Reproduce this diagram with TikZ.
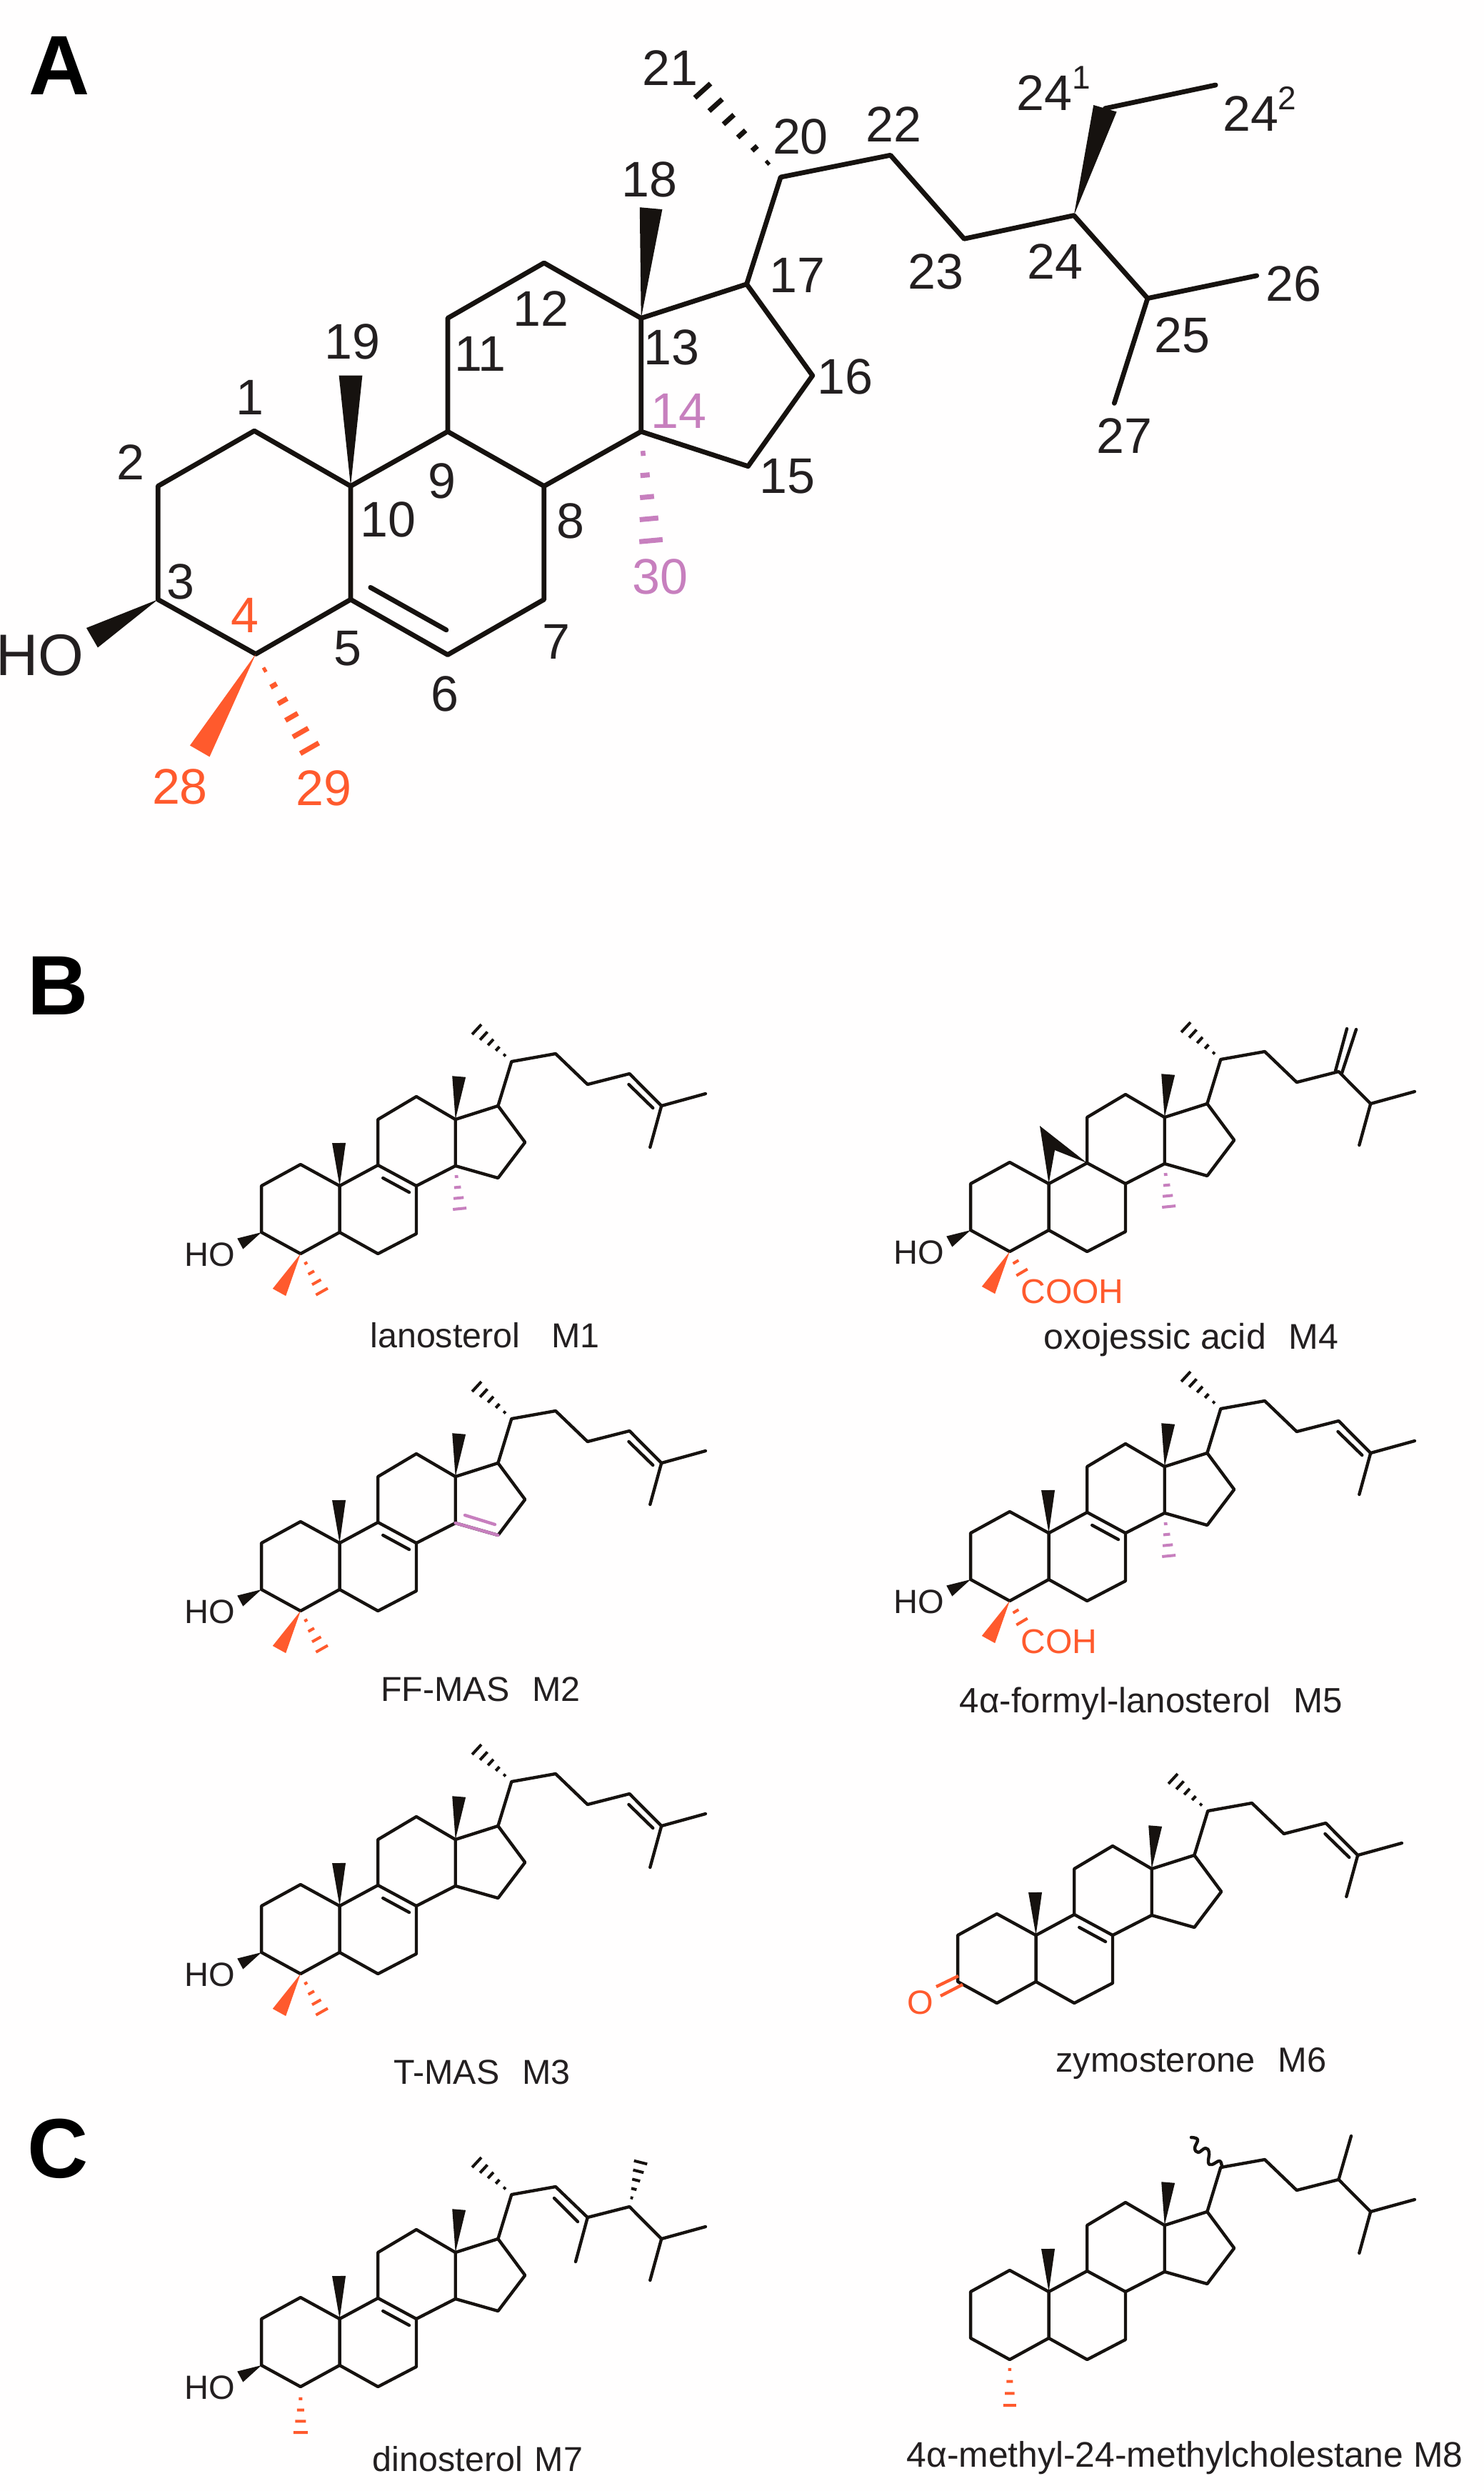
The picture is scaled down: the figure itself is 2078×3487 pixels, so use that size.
\documentclass[tikz,border=0pt]{standalone}
\usepackage{fontspec}
\setmainfont{Liberation Sans}
\usetikzlibrary{calc}
\definecolor{ink}{HTML}{16120F}
\definecolor{txt}{HTML}{231F20}
\definecolor{redo}{HTML}{FF5A2D}
\definecolor{pnk}{HTML}{C77FBE}
\definecolor{paper}{HTML}{FFFEFE}
\tikzset{
  bondA/.style={draw=ink,line width=3.4pt,line cap=round,line join=round},
  bondB/.style={draw=ink,line width=2.2pt,line cap=round,line join=round},
  numlab/.style={inner sep=0pt,text=txt,font=\fontsize{35}{35}\selectfont},
  panel/.style={inner sep=0pt,text=black,font=\fontsize{59}{59}\bfseries\selectfont},
  oh/.style={inner sep=0pt,text=txt,font=\fontsize{23.5}{24}\selectfont},
  caption/.style={inner sep=0pt,anchor=base,text=txt,font=\fontsize{24.2}{24}\selectfont},
}
% tip, end, width (px), colour
\newcommand\wdg[4]{\fill[#4] (#1) -- ($(#2)!#3*0.25pt!90:(#1)$) -- ($(#2)!#3*0.25pt!-90:(#1)$) -- cycle;}
% tip, end, width (px), number of dashes, colour, thickness (px)
\newcommand\hsh[6]{%
  \coordinate (hL) at ($(#2)!#3*0.25pt!90:(#1)$);
  \coordinate (hR) at ($(#2)!#3*0.25pt!-90:(#1)$);
  \foreach \ii in {1,...,#4}{%
    \pgfmathsetmacro\hf{\ii/#4}
    \draw[#5,line width=#6*0.5pt,line cap=butt] ($(#1)!\hf!(hL)$) -- ($(#1)!\hf!(hR)$);
  }}
% small molecule: prefix, dx, dy
\newcommand\core[3]{%
  \begin{scope}[shift={(#2+1.04,#3)},xscale=0.9948]
  \coordinate (#1c1) at (422,1630); \coordinate (#1c2) at (367,1660);
  \coordinate (#1c3) at (367,1725); \coordinate (#1c4) at (422,1755);
  \coordinate (#1c5) at (477,1725); \coordinate (#1c6) at (531,1755);
  \coordinate (#1c7) at (585,1727); \coordinate (#1c8) at (585,1660);
  \coordinate (#1c9) at (531,1631); \coordinate (#1c10) at (477,1660);
  \coordinate (#1c11) at (531,1567); \coordinate (#1c12) at (585,1535);
  \coordinate (#1c13) at (640,1567); \coordinate (#1c14) at (640,1632);
  \coordinate (#1c15) at (700,1649); \coordinate (#1c16) at (738,1599);
  \coordinate (#1c17) at (700,1548); \coordinate (#1c18) at (645,1507);
  \coordinate (#1c19) at (476,1600); \coordinate (#1c20) at (719,1486);
  \coordinate (#1c21) at (670,1441); \coordinate (#1c22) at (781,1475);
  \coordinate (#1c23) at (826,1518); \coordinate (#1c24) at (885,1503);
  \coordinate (#1c25) at (930,1548); \coordinate (#1c26) at (992,1531);
  \coordinate (#1c27) at (914,1606); \coordinate (#1c28) at (392,1809);
  \coordinate (#1c29) at (452,1808); \coordinate (#1c30) at (646,1692);
  \coordinate (#1o) at (337,1741);
  \coordinate (#1d8) at (575,1669); \coordinate (#1d9) at (538,1649);
  \coordinate (#1d24) at (884,1518); \coordinate (#1d25) at (918,1551);
  \coordinate (#1m4) at (422,1819); \coordinate (#1m4s) at (422,1755);
  \end{scope}
  \draw[bondB] (#1c1) -- (#1c2) -- (#1c3) -- (#1c4) -- (#1c5) -- (#1c10) -- cycle;
  \draw[bondB] (#1c5) -- (#1c6) -- (#1c7) -- (#1c8) -- (#1c9) -- (#1c10);
  \draw[bondB] (#1c9) -- (#1c11) -- (#1c12) -- (#1c13) -- (#1c14) -- (#1c8);
  \draw[bondB] (#1c14) -- (#1c15) -- (#1c16) -- (#1c17) -- (#1c13);
  \draw[bondB] (#1c17) -- (#1c20) -- (#1c22) -- (#1c23) -- (#1c24) -- (#1c25) -- (#1c26);
  \draw[bondB] (#1c25) -- (#1c27);
  \wdg{#1c13}{#1c18}{19}{ink}
}
\newcommand\methylnineteen[1]{\wdg{#1c10}{#1c19}{19}{ink}}
\newcommand\methyltwentyone[1]{\hsh{#1c20}{#1c21}{19}{5}{ink}{4}}
\newcommand\doublenine[1]{\draw[bondB] (#1d8) -- (#1d9);}
\newcommand\doubleside[1]{\draw[bondB] (#1d24) -- (#1d25);}
\newcommand\hydroxy[1]{%
  \wdg{#1c3}{#1o}{17}{ink}
  \node[oh,anchor=center] (#1ho) at ($(#1c3)+(-72,31)$) {HO};}
\newcommand\gemredwedge[1]{\wdg{#1c4}{#1c28}{21}{redo}}
\newcommand\gemredhash[1]{\hsh{#1c4}{#1c29}{19}{4}{redo}{4}}
\newcommand\methylthirty[1]{\hsh{#1c14}{#1c30}{19}{4}{pnk}{4}}

\begin{document}
\begin{tikzpicture}[x=0.5pt,y=-0.5pt]
\useasboundingbox (0,0) rectangle (2078,3487);
\fill[paper] (0,0) rectangle (2078,3487);
\clip (0,0) rectangle (2078,3487);

% ---------- panel letters
\node[panel] (pA) at (83,92) {A};
\node[panel] (pB) at (81,1380) {B};
\node[panel] (pC) at (81,3008) {C};

% ---------- panel A
\begin{scope}[scale=0.992]
\coordinate (a1) at (359,608); \coordinate (a2) at (223,686);
\coordinate (a3) at (223,846); \coordinate (a4) at (361,923);
\coordinate (a5) at (495,846); \coordinate (a6) at (632,924);
\coordinate (a7) at (768,846); \coordinate (a8) at (768,686);
\coordinate (a9) at (632,609); \coordinate (a10) at (495,686);
\coordinate (a11) at (632,449); \coordinate (a12) at (768,371);
\coordinate (a13) at (905,449); \coordinate (a14) at (905,609);
\coordinate (a15) at (1056,658); \coordinate (a16) at (1147,530);
\coordinate (a17) at (1054,401); \coordinate (a18) at (919,294);
\coordinate (a19) at (495,530); \coordinate (a20) at (1102,250);
\coordinate (a21) at (992,128); \coordinate (a22) at (1257,219);
\coordinate (a23) at (1361,337); \coordinate (a24) at (1516,304);
\coordinate (a25) at (1620,421); \coordinate (a26) at (1774,389);
\coordinate (a27) at (1573,569); \coordinate (a241) at (1560,153);
\coordinate (a242) at (1716,120); \coordinate (a28) at (282,1060);
\coordinate (a29) at (437,1056); \coordinate (a30) at (919,763);
\coordinate (aoh) at (130,900); \coordinate (ad5) at (523,829);
\coordinate (ad6) at (630,889);

\draw[bondA] (a1) -- (a2) -- (a3) -- (a4) -- (a5) -- (a10) -- cycle;
\draw[bondA] (a5) -- (a6) -- (a7) -- (a8) -- (a9) -- (a10);
\draw[bondA] (a9) -- (a11) -- (a12) -- (a13) -- (a14) -- (a8);
\draw[bondA] (a14) -- (a15) -- (a16) -- (a17) -- (a13);
\draw[bondA] (a17) -- (a20) -- (a22) -- (a23) -- (a24) -- (a25) -- (a26);
\draw[bondA] (a25) -- (a27);
\draw[bondA] (a241) -- (a242);
\draw[bondA] (ad5) -- (ad6);
\wdg{a13}{a18}{32}{ink}
\wdg{a10}{a19}{33}{ink}
\wdg{a24}{a241}{34}{ink}
\wdg{a3}{aoh}{32}{ink}
\wdg{a4}{a28}{32}{redo}
\hsh{a4}{a29}{30}{6}{redo}{7}
\hsh{a14}{a30}{33}{5}{pnk}{7}
\hsh{a20}{a21}{30}{6}{ink}{7}

\node[numlab] (l1) at (353,561) {1};
\node[numlab] (l2) at (184,652) {2};
\node[numlab] (l3) at (255,821) {3};
\node[numlab,text=redo] (l4) at (346,868) {4};
\node[numlab] (l5) at (491,915) {5};
\node[numlab] (l6) at (628,979) {6};
\node[numlab] (l7) at (785,906) {7};
\node[numlab] (l8) at (805,735) {8};
\node[numlab] (l9) at (624,679) {9};
\node[numlab] (l10) at (548,733) {10};
\node[numlab] (l11) at (678,499) {11};
\node[numlab] (l12) at (764,436) {12};
\node[numlab] (l13) at (948,490) {13};
\node[numlab,text=pnk] (l14) at (958,580) {14};
\node[numlab] (l15) at (1111,672) {15};
\node[numlab] (l16) at (1193,532) {16};
\node[numlab] (l17) at (1125,389) {17};
\node[numlab] (l18) at (917,253) {18};
\node[numlab] (l19) at (497,482) {19};
\node[numlab] (l20) at (1130,193) {20};
\node[numlab] (l21) at (946,96) {21};
\node[numlab] (l22) at (1262,175) {22};
\node[numlab] (l23) at (1321,383) {23};
\node[numlab] (l24) at (1489,369) {24};
\node[numlab] (l25) at (1669,473) {25};
\node[numlab] (l26) at (1826,401) {26};
\node[numlab] (l27) at (1587,615) {27};
\node[numlab,text=redo] (l28) at (254,1110) {28};
\node[numlab,text=redo] (l29) at (457,1112) {29};
\node[numlab,text=pnk] (l30) at (932,814) {30};
\node[numlab,anchor=base] (l241) at (1487,156) {24\raisebox{15pt}{\fontsize{23}{23}\selectfont 1}};
\node[numlab,anchor=base] (l242) at (1778,185) {24\raisebox{15pt}{\fontsize{23}{23}\selectfont 2}};
\node[oh,anchor=east,font=\fontsize{41}{41}\selectfont] (lho) at (119,925) {HO};
\end{scope}

% ---------- M1 lanosterol
\core{ma}{0}{0}
\methylnineteen{ma} \methyltwentyone{ma} \doublenine{ma} \doubleside{ma}
\hydroxy{ma} \gemredwedge{ma} \gemredhash{ma} \methylthirty{ma}
\node[caption] (ca) at (679,1886) {lanosterol\hspace{22pt}M1};

% ---------- M2 FF-MAS
\core{mb}{0}{500}
\methylnineteen{mb} \methyltwentyone{mb} \doublenine{mb} \doubleside{mb}
\hydroxy{mb} \gemredwedge{mb} \gemredhash{mb}
\coordinate (mbe1) at (651,2121); \coordinate (mbe2) at (693,2134);
\draw[draw=pnk,line width=2.2pt,line cap=round] (mbc14) -- (mbc15);
\draw[draw=pnk,line width=2.2pt,line cap=round] (mbe1) -- (mbe2);
\node[caption] (cb) at (673,2381) {FF-MAS\hspace{16pt}M2};

% ---------- M3 T-MAS
\core{mc}{0}{1008}
\methylnineteen{mc} \methyltwentyone{mc} \doublenine{mc} \doubleside{mc}
\hydroxy{mc} \gemredwedge{mc} \gemredhash{mc}
\node[caption] (cc) at (675,2917) {T-MAS\hspace{16pt}M3};

% ---------- M7 dinosterol
\core{mg}{0}{1586}
\methylnineteen{mg} \methyltwentyone{mg} \doublenine{mg} \hydroxy{mg}
\coordinate (mgdb1) at (776,3077); \coordinate (mgdb2) at (809,3110);
\coordinate (mgme) at (806,3166); \coordinate (mghh) at (897,3027);
\draw[bondB] (mgdb1) -- (mgdb2);
\draw[bondB] (mgc23) -- (mgme);
\hsh{mgc24}{mghh}{19}{5}{ink}{4}
\coordinate (mgm4s) at (421,3342);
\hsh{mgm4s}{mgm4}{20}{4}{redo}{4}
\node[caption] (cg) at (669,3459) {dinosterol\hspace{8.5pt}M7};

% ---------- M4 oxojessic acid
\core{md}{993}{-3}
\methyltwentyone{md} \hydroxy{md} \gemredwedge{md} \methylthirty{md}
\coordinate (mdap) at (1456,1576); \coordinate (mdno) at (1477,1610);
\fill[ink] (mdc10) -- (mdap) -- (mdc9) -- (mdno) -- cycle;
\coordinate (mdx1) at (1870,1499); \coordinate (mdx2) at (1886,1440);
\coordinate (mdx3) at (1879,1502); \coordinate (mdx4) at (1899,1441);
\draw[bondB] (mdx1) -- (mdx2);
\draw[bondB] (mdx3) -- (mdx4);
\coordinate (mdh) at (1431,1781);
\hsh{mdc4}{mdh}{18}{2}{redo}{4}
\node[oh,anchor=west,text=redo,font=\fontsize{24}{24}\selectfont] (mdcooh) at (1429,1808) {COOH};
\node[caption,font=\fontsize{25}{25}\selectfont] (cd) at (1668,1888) {oxojessic acid\hspace{16pt}M4};

% ---------- M5 4-alpha-formyl-lanosterol
\core{me}{993}{486}
\methylnineteen{me} \methyltwentyone{me} \doublenine{me} \doubleside{me}
\hydroxy{me} \gemredwedge{me} \methylthirty{me}
\coordinate (meh) at (1431,2270);
\hsh{mec4}{meh}{18}{2}{redo}{4}
\node[oh,anchor=west,text=redo,font=\fontsize{24}{24}\selectfont] (mecoh) at (1429,2298) {COH};
\node[caption,font=\fontsize{24.6}{25}\selectfont] (ce) at (1612,2397) {4α-formyl-lanosterol\hspace{16pt}M5};

% ---------- M6 zymosterone
\core{mf}{975}{1049}
\methylnineteen{mf} \methyltwentyone{mf} \doublenine{mf} \doubleside{mf}
\coordinate (mfo1) at (1311,2781); \coordinate (mfo2) at (1342,2766);
\coordinate (mfo3) at (1317,2794); \coordinate (mfo4) at (1348,2778);
\draw[draw=redo,line width=2.2pt] (mfo1) -- (mfo2);
\draw[draw=redo,line width=2.2pt] (mfo3) -- (mfo4);
\node[oh,text=redo] (mfO) at (1289,2803) {O};
\node[caption,font=\fontsize{24.4}{25}\selectfont] (cf) at (1668,2900) {zymosterone\hspace{16pt}M6};

% ---------- M8
\core{mh}{993}{1548}
\methylnineteen{mh}
\coordinate (mhme) at (1892,2990);
\draw[bondB] (mhc24) -- (mhme);
\coordinate (mhm4s) at (1414,3300);
\hsh{mhm4s}{mhm4}{18}{4}{redo}{4}
\draw[bondB] plot[smooth,tension=0.7] coordinates {(1711,3034) (1708,3025) (1697,3030) (1692,3027) (1693,3013) (1688,3007) (1678,3013) (1673,3007) (1677,2995) (1668,2992)};
\node[caption,font=\fontsize{24.9}{25}\selectfont] (ch) at (1659,3453) {4α-methyl-24-methylcholestane M8};
\end{tikzpicture}
\end{document}
